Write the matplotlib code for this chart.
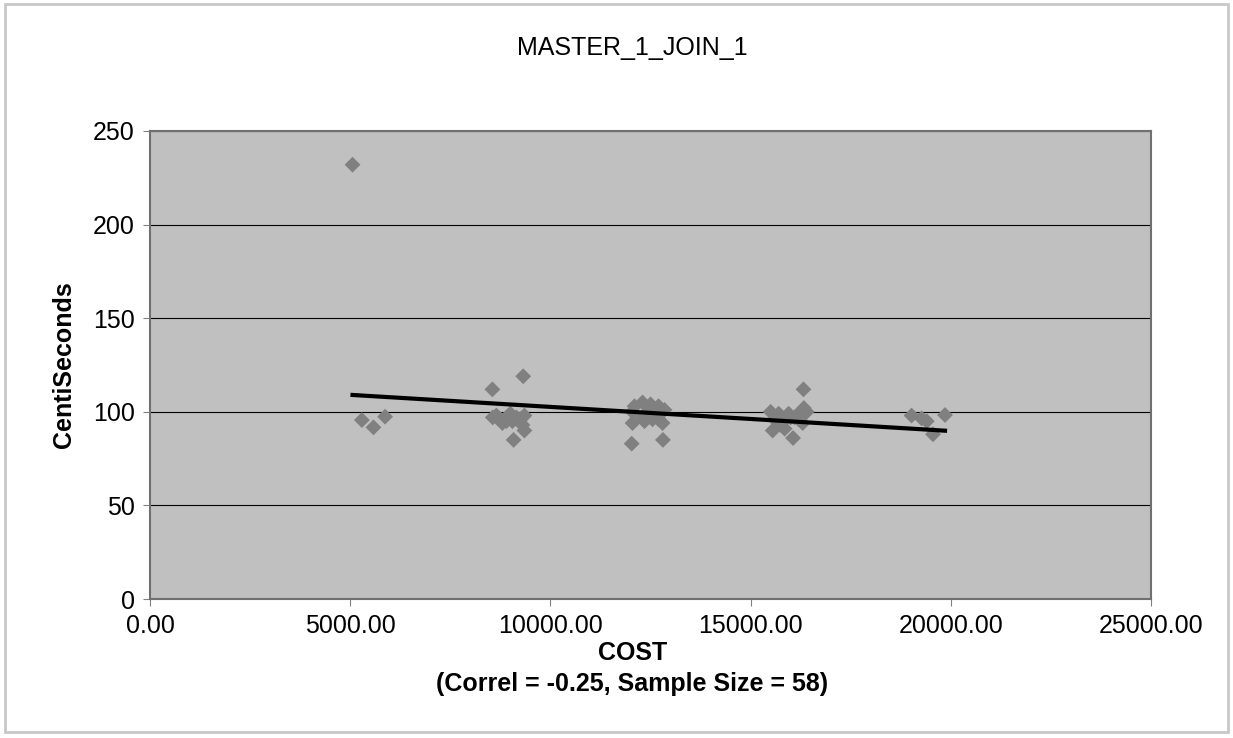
import numpy as np
import matplotlib
matplotlib.use("Agg")
import matplotlib.pyplot as plt
from matplotlib.patches import Rectangle
from matplotlib.ticker import FormatStrFormatter

plt.rcParams['font.family'] = ['Liberation Sans', 'DejaVu Sans']

# Data (COST vs CentiSeconds)
cost = [
    5057, 5290, 5580, 5870,
    8550, 9320, 8560, 8750, 8950, 9150, 9350, 8800, 9050, 9300, 9350, 9000, 9080, 8650, 9250, 8900,
    12100, 12300, 12500, 12700, 12850, 12050, 12400, 12600, 12300, 12050, 12350, 12550, 12800, 12700, 12030, 12810,
    16320, 16330, 16400, 15500, 15700, 15950, 16150, 15600, 15800, 16000, 16200, 15550, 15850, 16060, 16300, 15750, 16100,
    19020, 19270, 19855, 19555, 19400,
]
centi = [
    232, 95.6, 91.7, 97.4,
    112, 119, 97, 96, 98, 97, 98, 94, 95, 93, 90, 99, 85, 98, 96, 95,
    103, 105, 104, 103, 101, 100, 99, 100, 97, 94, 95, 96, 94, 96, 83, 85,
    112, 102, 100, 100, 99, 99, 98, 96, 95, 97, 96, 90, 91, 86, 94, 93, 97,
    98, 96.5, 98.3, 88, 95,
]
title = "MASTER_1_JOIN_1"
correl = -0.25

x = np.array(cost, dtype=float)
y = np.array(centi, dtype=float)
# Linear trendline over the data range
slope, intercept = np.polyfit(x, y, 1)

fig = plt.figure(figsize=(12.33, 7.38), dpi=100)
fig.patches.append(Rectangle((0.004, 0.008), 0.992, 0.986, transform=fig.transFigure,
                             fill=False, edgecolor='#c8c8c8', linewidth=2))

ax = fig.add_axes([0.1217, 0.1883, 0.8118, 0.6342])
ax.set_facecolor('#c0c0c0')
ax.set_axisbelow(True)
ax.grid(axis='y', color='black', linewidth=0.8)

ax.scatter(x, y, marker='D', s=65, color='#808080', edgecolors='none', zorder=3)
xs = np.array([x.min(), x.max()])
ax.plot(xs, intercept + slope * xs, color='black', linewidth=3, zorder=4)

ax.set_xlim(0, 25000)
ax.set_ylim(0, 250)
ax.set_xticks(np.arange(0, 25001, 5000))
ax.set_yticks(np.arange(0, 251, 50))
ax.xaxis.set_major_formatter(FormatStrFormatter('%.2f'))
ax.tick_params(labelsize=18, length=5, color='#808080', pad=6)
for s in ax.spines.values():
    s.set_color('#707070')
    s.set_linewidth(1.5)

ax.set_ylabel("CentiSeconds", fontsize=18, fontweight='bold', labelpad=12)
fig.text(0.513, 0.115, "COST", ha='center', va='center', fontsize=18, fontweight='bold')
fig.text(0.513, 0.073, f"(Correl = {correl:.2f}, Sample Size = {len(x)})",
         ha='center', va='center', fontsize=18, fontweight='bold')
fig.text(0.513, 0.935, title, ha='center', va='center', fontsize=18)

fig.savefig("out.png", dpi=100)
